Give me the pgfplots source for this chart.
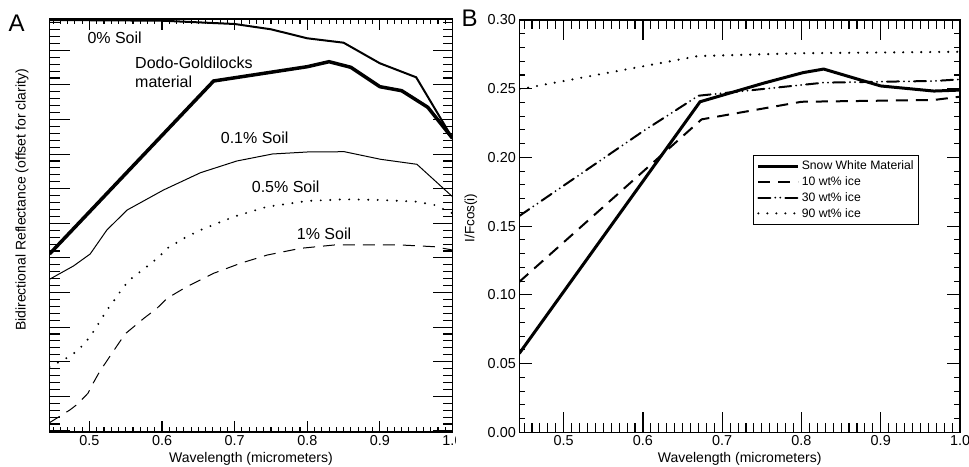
\documentclass[border=0pt]{standalone}
\usepackage{fontspec}
\setmainfont{Liberation Sans}
\usepackage{pgfplots}
\pgfplotsset{compat=1.18}
\begin{document}
\begin{tikzpicture}
\useasboundingbox (0pt,0pt) rectangle (969pt,466pt);
\pgfplotsset{
 common/.style={
  scale only axis,
  anchor=south west,
  axis line style={line width=1.5pt},
  tick style={line width=1.1pt, black},
  tick align=inside,
  ticklabel style={font=\fontsize{14.4}{16}\selectfont},
  /pgf/number format/assume math mode=true,
  xticklabel style={/pgf/number format/.cd,fixed,fixed zerofill,precision=1},
  every axis x label/.style={at={(axis description cs:0.5,0)},anchor=base,yshift=-30pt,font=\fontsize{14}{16}\selectfont},
  xtick={0.5,0.6,0.7,0.8,0.9,1.0},
  minor xtick={0.45,0.46,...,0.995},
  xlabel={Wavelength (micrometers)},
 }
}
% ---------------- Panel A ----------------
\begin{axis}[common, at={(49.5pt,34pt)}, width=403pt, height=413pt,
  xmin=0.445, xmax=1.0, ymin=0, ymax=413,
  ytick={1.1,35.7,70.3,104.9,139.5,174.1,208.7,243.3,277.9,312.5,347.1,381.7},
  minor ytick={1.1,8.02,...,413},
  yticklabels={},
  xtick style={/pgfplots/major tick length=11pt,/pgfplots/minor tick length=5.5pt},
  ytick style={/pgfplots/major tick length=20pt,/pgfplots/minor tick length=10pt},
  ylabel={Bidirectional Reflectance (offset for clarity)},
  every axis y label/.style={at={(axis description cs:0,0.5617)}, xshift=-27.5pt, rotate=90, anchor=center, font=\fontsize{14}{16}\selectfont},
]
% 0% Soil
\addplot[mark=none, line width=2pt] coordinates {
(0.445,412) (0.6,411.3) (0.7,408) (0.75,402.7) (0.8,393.7) (0.85,389.3) (0.9,368.7) (0.95,354.7) (1.0,293.7)};
% Dodo-Goldilocks
\addplot[mark=none, line width=3.5pt] coordinates {
(0.445,178) (0.671,351) (0.8,365.3) (0.83,370.3) (0.86,364.7) (0.9,345.3) (0.93,341.3) (0.966,324.7) (1.0,293.7)};
% 0.1% Soil
\addplot[mark=none, line width=1pt] coordinates {
(0.445,152.7) (0.478,166) (0.501,178) (0.524,202) (0.552,222) (0.602,242) (0.653,259.3) (0.703,271) (0.752,278) (0.8,280) (0.851,280.3) (0.901,272.7) (0.951,267.7) (1.0,235.3)};
% 0.5% Soil
\addplot[mark=none, line width=2.2pt, line cap=round, dash pattern=on 0pt off 9.5pt] coordinates {
(0.445,65) (0.459,70.3) (0.474,76) (0.487,83.7) (0.499,93.7) (0.508,103) (0.516,112.7) (0.525,122.7) (0.535,132.7) (0.544,142) (0.554,151.3) (0.568,159.3) (0.582,167) (0.596,175.3) (0.607,183.7) (0.634,195.3) (0.653,202) (0.699,215.3) (0.745,225.3) (0.8,231) (0.851,232.7) (0.901,232) (0.951,230.3) (0.975,227) (1.0,218.7)};
% 1% Soil
\addplot[mark=none, line width=1pt, dash pattern=on 12pt off 8pt] coordinates {
(0.445,9.3) (0.473,22) (0.482,27) (0.498,38.7) (0.505,48.7) (0.514,60.3) (0.531,78.7) (0.549,98) (0.575,113.7) (0.593,123.7) (0.607,133.7) (0.634,145.3) (0.671,158.7) (0.708,168.7) (0.745,177) (0.791,183.7) (0.837,187) (0.883,187) (0.929,187) (0.975,185.3) (1.0,182)};
\end{axis}
\fill[white] (456pt,10pt) rectangle (478pt,32pt);
% ---------------- Panel B ----------------
\begin{axis}[common, at={(519.3pt,33.7pt)}, width=440.7pt, height=412.3pt,
  xmin=0.444, xmax=1.0, ymin=0, ymax=0.30,
  ytick={0,0.05,0.10,0.15,0.20,0.25,0.30},
  minor ytick={0.01,0.02,...,0.295},
  yticklabel style={/pgf/number format/.cd,fixed,fixed zerofill,precision=2},
  xtick style={/pgfplots/major tick length=20pt,/pgfplots/minor tick length=9pt},
  ytick style={/pgfplots/major tick length=13pt,/pgfplots/minor tick length=6pt},
  ylabel={I/Fcos(i)},
  every axis y label/.style={at={(axis description cs:0,0.52)}, xshift=-48.3pt, rotate=90, anchor=center, font=\fontsize{13.5}{15}\selectfont},
  legend style={at={(0.531,0.6726)}, anchor=north west, font=\fontsize{12.2}{14}\selectfont, line width=1pt, inner ysep=3.5pt, row sep=1.4pt, cells={anchor=west}},
  legend image code/.code={\draw[#1] (0pt,0pt) -- (40pt,0pt);},
]
\addplot[mark=none, line width=3pt] coordinates {
(0.444,0.0574) (0.672,0.2405) (0.752,0.254) (0.802,0.2617) (0.828,0.2643) (0.9,0.252) (0.967,0.2483) (1.0,0.249)};
\addlegendentry{Snow White Material}
\addplot[mark=none, line width=2pt, dash pattern=on 12pt off 8pt] coordinates {
(0.444,0.1095) (0.674,0.2277) (0.8,0.2405) (0.967,0.2418) (1.0,0.2442)};
\addlegendentry{10 wt\% ice}
\addplot[mark=none, line width=2pt, line cap=round, dash pattern=on 12pt off 5pt on 0pt off 5pt on 0pt off 5pt] coordinates {
(0.444,0.1574) (0.6,0.219) (0.67,0.2449) (0.828,0.2544) (0.9,0.2551) (0.967,0.2556) (1.0,0.2568)};
\addlegendentry{30 wt\% ice}
\addplot[mark=none, line width=2.4pt, line cap=round, dash pattern=on 0pt off 9pt] coordinates {
(0.444,0.2496) (0.67,0.2738) (0.8,0.2758) (1.0,0.2769)};
\addlegendentry{90 wt\% ice}
\end{axis}
% panel letters and annotations
\node[anchor=base, inner sep=0pt, font=\fontsize{24}{26}\selectfont] at (16.7pt,434.3pt) {A};
\node[anchor=base, inner sep=0pt, font=\fontsize{24}{26}\selectfont] at (469.5pt,439pt) {B};
\begin{scope}[every node/.style={anchor=base west, inner sep=0pt, font=\fontsize{16}{18}\selectfont}]
\node at (87.3pt,422.7pt) {0\% Soil};
\node at (135pt,397.7pt) {Dodo-Goldilocks};
\node at (135pt,378.7pt) {material};
\node at (220.7pt,322.7pt) {0.1\% Soil};
\node at (251.7pt,273.3pt) {0.5\% Soil};
\node at (296.7pt,226pt) {1\% Soil};
\end{scope}
\end{tikzpicture}
\end{document}
